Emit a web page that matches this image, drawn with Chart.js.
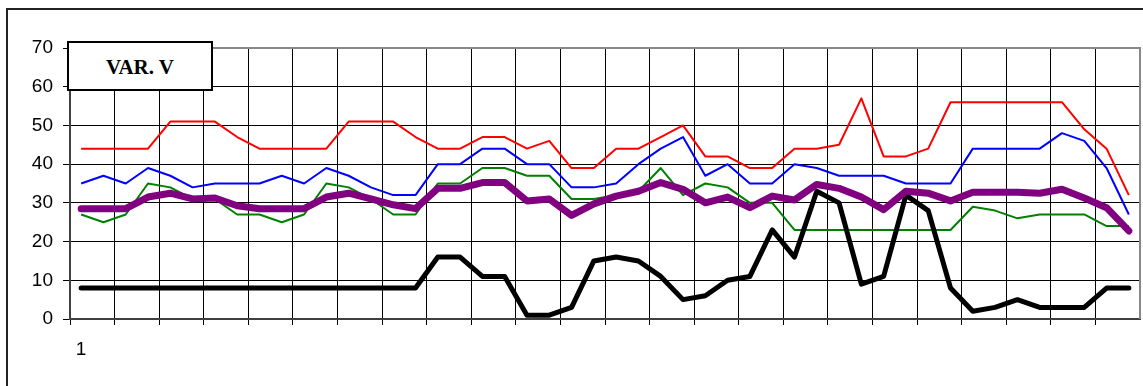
<!DOCTYPE html>
<html>
<head>
<meta charset="UTF-8">
<title>VAR. V</title>
<script src="https://cdn.jsdelivr.net/npm/chart.js"></script>
<style>
    html, body {
        margin: 0;
        padding: 0;
        background: #fff;
    }
    #wrap {
        position: relative;
        width: 1143px;
        height: 386px;
        overflow: hidden;
    }
    #wrap canvas {
        position: absolute;
        left: 0;
        top: 0;
    }
    .frame {
        position: absolute;
        left: 6px;
        top: 8px;
        width: 1200px;
        height: 400px;
        border-left: 2px solid #222;
        border-top: 2px solid #222;
        pointer-events: none;
    }
    .tag {
        position: absolute;
        left: 67px;
        top: 41px;
        width: 142px;
        height: 46px;
        border: 2px solid #000;
        background: #fff;
        font-family: 'Liberation Serif', 'Times New Roman', serif;
        font-weight: bold;
        font-size: 21px;
        line-height: 48px;
        text-align: center;
    }
</style>
</head>
<body>
<div id="wrap">
    <canvas id="varChart" width="1143" height="386"></canvas>
    <div class="frame"></div>
    <div class="tag">VAR. V</div>
</div>

<script>
    // categories 1..48
    const categories = ['1', '2', '3', '4', '5', '6', '7', '8', '9', '10', '11', '12',
        '13', '14', '15', '16', '17', '18', '19', '20', '21', '22', '23', '24',
        '25', '26', '27', '28', '29', '30', '31', '32', '33', '34', '35', '36',
        '37', '38', '39', '40', '41', '42', '43', '44', '45', '46', '47', '48'];

    const redValues = [44, 44, 44, 44, 51, 51, 51, 47, 44, 44, 44, 44,
        51, 51, 51, 47, 44, 44, 47, 47, 44, 46, 39, 39,
        44, 44, 47, 50, 42, 42, 39, 39, 44, 44, 45, 57,
        42, 42, 44, 56, 56, 56, 56, 56, 56, 49, 44, 32];

    const blueValues = [35, 37, 35, 39, 37, 34, 35, 35, 35, 37, 35, 39,
        37, 34, 32, 32, 40, 40, 44, 44, 40, 40, 34, 34,
        35, 40, 44, 47, 37, 40, 35, 35, 40, 39, 37, 37,
        37, 35, 35, 35, 44, 44, 44, 44, 48, 46, 39, 27];

    const greenValues = [27, 25, 27, 35, 34, 31, 31, 27, 27, 25, 27, 35,
        34, 31, 27, 27, 35, 35, 39, 39, 37, 37, 31, 31,
        32, 33, 39, 32, 35, 34, 30, 30, 23, 23, 23, 23,
        23, 23, 23, 23, 29, 28, 26, 27, 27, 27, 24, 24];

    const blackValues = [8, 8, 8, 8, 8, 8, 8, 8, 8, 8, 8, 8,
        8, 8, 8, 8, 16, 16, 11, 11, 1, 1, 3, 15,
        16, 15, 11, 5, 6, 10, 11, 23, 16, 33, 30, 9,
        11, 32, 28, 8, 2, 3, 5, 3, 3, 3, 8, 8];

    const purpleValues = [28.5, 28.5, 28.5, 31.5, 32.5, 31, 31.25, 29.25, 28.5, 28.5, 28.5, 31.5,
        32.5, 31, 29.5, 28.5, 33.75, 33.75, 35.25, 35.25, 30.5, 31, 26.75, 29.75,
        31.75, 33, 35.25, 33.5, 30, 31.5, 28.75, 31.75, 30.75, 34.75, 33.75, 31.5,
        28.25, 33, 32.5, 30.5, 32.75, 32.75, 32.75, 32.5, 33.5, 31.25, 28.75, 22.75];

    const yTicks = [0, 10, 20, 30, 40, 50, 60, 70];

    Chart.defaults.font.family = "'Liberation Sans', Arial, sans-serif";
    Chart.defaults.font.size = 19;
    Chart.defaults.color = '#000';

    function line(label, data, color, width, order) {
        return {
            label: label,
            data: data,
            borderColor: color,
            backgroundColor: color,
            borderWidth: width,
            pointRadius: 0,
            tension: 0,
            fill: false,
            borderCapStyle: width > 3 ? 'round' : 'butt',
            borderJoinStyle: 'round',
            order: order
        };
    }

    // gray frame on the top and right side of the plot area
    const plotFrame = {
        id: 'plotFrame',
        afterDraw(chart) {
            const { ctx, chartArea: a } = chart;
            ctx.save();
            ctx.strokeStyle = '#888';
            ctx.lineWidth = 2;
            ctx.beginPath();
            ctx.moveTo(a.left, a.top);
            ctx.lineTo(a.right, a.top);
            ctx.lineTo(a.right, a.bottom);
            ctx.stroke();
            ctx.restore();
        }
    };

    const gridEvery2 = (c) => (c.index % 2 === 0 ? '#000' : 'rgba(0,0,0,0)');

    new Chart(document.getElementById('varChart').getContext('2d'), {
        type: 'line',
        data: {
            labels: categories,
            datasets: [
                line('R', redValues, '#ff0000', 2, 4),
                line('B', blueValues, '#0000ff', 2, 3),
                line('G', greenValues, '#008000', 2, 2),
                line('N', blackValues, '#000000', 5, 1),
                line('M', purpleValues, '#800080', 7, 0)
            ]
        },
        options: {
            responsive: false,
            animation: false,
            layout: { padding: { left: 0, top: 48, right: 3, bottom: 0 } },
            plugins: {
                legend: { display: false },
                tooltip: { enabled: false }
            },
            scales: {
                x: {
                    offset: true,
                    grid: {
                        offset: true,
                        color: gridEvery2,
                        tickColor: gridEvery2,
                        lineWidth: 1,
                        tickLength: 6
                    },
                    border: { color: '#404040', width: 2 },
                    ticks: {
                        autoSkip: false,
                        maxRotation: 0,
                        padding: 13,
                        callback: (v, i) => (i === 0 ? categories[i] : '')
                    },
                    afterFit(scale) { scale.height = 67; }
                },
                y: {
                    min: 0,
                    max: 70,
                    afterBuildTicks(scale) {
                        scale.ticks = yTicks.map(v => ({ value: v }));
                    },
                    grid: {
                        color: '#000',
                        lineWidth: 1,
                        tickLength: 7
                    },
                    border: { color: '#404040', width: 2 },
                    ticks: { padding: 10 },
                    afterFit(scale) { scale.width = 70; }
                }
            }
        },
        plugins: [plotFrame]
    });
</script>
</body>
</html>
